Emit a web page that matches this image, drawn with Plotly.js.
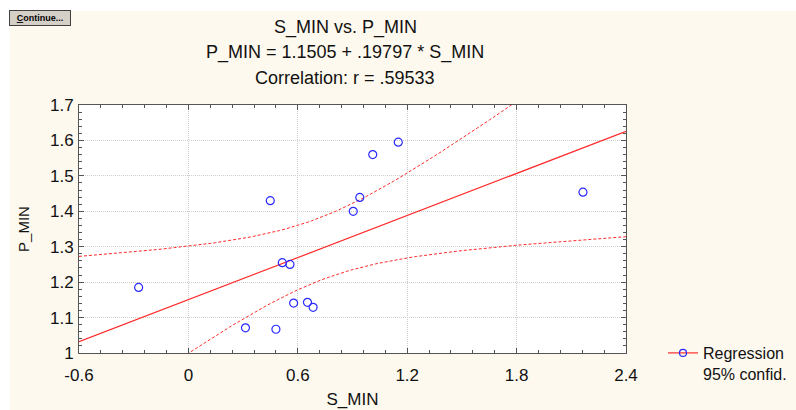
<!DOCTYPE html>
<html>
<head>
<meta charset="utf-8">
<script src="https://cdn.plot.ly/plotly-3.0.1.min.js"></script>
<style>html,body{margin:0;padding:0;background:#fff;}#chart{width:796px;height:410px;}</style>
</head>
<body>
<div id="chart"></div>
<script>
// ---- data ----
const S_MIN = [-0.273, 0.313, 0.449, 0.480, 0.515, 0.557, 0.577, 0.653, 0.684, 0.904, 0.940, 1.011, 1.151, 2.164];
const P_MIN = [1.185, 1.071, 1.430, 1.067, 1.255, 1.250, 1.141, 1.143, 1.129, 1.400, 1.439, 1.560, 1.595, 1.454];
// regression coefficients printed in the chart title
const INTERCEPT = 1.1505;
const SLOPE = 0.19797;
const T_CRIT = 2.179; // t(0.975, n-2 = 12)
const xTickVals = [-0.6, 0, 0.6, 1.2, 1.8, 2.4];
const xTickText = ['-0.6', '0', '0.6', '1.2', '1.8', '2.4'];
const yTickVals = [1, 1.1, 1.2, 1.3, 1.4, 1.5, 1.6, 1.7];
const yTickText = ['1', '1.1', '1.2', '1.3', '1.4', '1.5', '1.6', '1.7'];
const titleLines = ['S_MIN vs. P_MIN', 'P_MIN = 1.1505 + .19797 * S_MIN', 'Correlation: r = .59533'];

// ---- fitted line and 95% confidence band derived from the data ----
const n = S_MIN.length;
const mx = S_MIN.reduce((a, b) => a + b, 0) / n;
const sxx = S_MIN.reduce((a, x) => a + (x - mx) * (x - mx), 0);
const sse = S_MIN.reduce((a, x, i) => { const r = P_MIN[i] - (INTERCEPT + SLOPE * x); return a + r * r; }, 0);
const se = Math.sqrt(sse / (n - 2));
const xFit = [], yFit = [], yLo = [], yHi = [];
for (let k = 0; k <= 120; k++) {
  const x = -0.6 + k * 0.025;
  const yh = INTERCEPT + SLOPE * x;
  const hw = T_CRIT * se * Math.sqrt(1 / n + (x - mx) * (x - mx) / sxx);
  xFit.push(x); yFit.push(yh); yLo.push(yh - hw); yHi.push(yh + hw);
}

const RED = '#ff2a2a';
const BLUE = '#2a2aff';
const FONT = 'Liberation Sans, Arial, sans-serif';

const traces = [
  {x: xFit, y: yHi, mode: 'lines', line: {color: RED, width: 1, dash: '3px,2px'}, showlegend: false, hoverinfo: 'skip'},
  {x: xFit, y: yLo, mode: 'lines', line: {color: RED, width: 1, dash: '3px,2px'}, showlegend: false, hoverinfo: 'skip'},
  {x: xFit, y: yFit, mode: 'lines', line: {color: RED, width: 1.2}, showlegend: false, hoverinfo: 'skip'},
  {x: S_MIN, y: P_MIN, mode: 'markers', marker: {symbol: 'circle-open', size: 8, color: BLUE, line: {width: 1.2, color: BLUE}}, showlegend: false},
  {x: [null], y: [null], mode: 'lines+markers', name: 'Regression<br>95% confid.',
   line: {color: RED, width: 1.2}, marker: {symbol: 'circle-open', size: 7, color: BLUE, line: {width: 1.2, color: BLUE}}}
];

// pixel helpers for paper coordinates (plot area 79..626 x 105..353)
const PL = 79, PR = 626, PT = 105, PB = 353;
const px = v => (v - PL) / (PR - PL);
const py = v => (PB - v) / (PB - PT);

const axisCommon = {
  showline: true, linecolor: '#555', linewidth: 1, mirror: 'allticks',
  ticks: 'inside', ticklen: 5, tickcolor: '#555', tickwidth: 1,
  showgrid: true, gridcolor: '#cdcdcd', griddash: '1px,1px', gridwidth: 1,
  zeroline: false, tickfont: {family: FONT, size: 17, color: '#111'}
};

const layout = {
  width: 796, height: 410,
  margin: {l: PL, r: 796 - PR, t: PT, b: 410 - PB, pad: 0, autoexpand: false},
  paper_bgcolor: '#fef9ee', plot_bgcolor: '#ffffff',
  font: {family: FONT, color: '#111'},
  showlegend: true,
  legend: {x: px(663), y: py(336), xanchor: 'left', yanchor: 'top', bgcolor: 'rgba(0,0,0,0)',
           font: {family: FONT, size: 16, color: '#111'}, valign: 'top', itemwidth: 30},
  xaxis: Object.assign({}, axisCommon, {
    range: [-0.6, 2.4], tickmode: 'array', tickvals: xTickVals, ticktext: xTickText,
    ticklabelstandoff: 7, automargin: false,
    minor: {ticks: 'inside', ticklen: 3, tickcolor: '#555', dtick: 0.12, tick0: -0.6, showgrid: false},
    title: {text: 'S_MIN', font: {family: FONT, size: 17, color: '#111'}, standoff: 8}
  }),
  yaxis: Object.assign({}, axisCommon, {
    range: [1, 1.7], tickmode: 'array', tickvals: yTickVals, ticktext: yTickText,
    ticklabelstandoff: 1, automargin: false,
    minor: {ticks: 'inside', ticklen: 3, tickcolor: '#555', dtick: 0.02, tick0: 1, showgrid: false},
    title: {text: 'P_MIN', font: {family: FONT, size: 15, color: '#111'}, standoff: 16}
  }),
  shapes: [
    {type: 'rect', xref: 'paper', yref: 'paper', x0: -1, x1: 2, y0: py(11), y1: 3, fillcolor: '#ffffff', line: {width: 0}, layer: 'below'},
    {type: 'rect', xref: 'paper', yref: 'paper', x0: -1, x1: px(10), y0: -2, y1: 3, fillcolor: '#ffffff', line: {width: 0}, layer: 'below'}
  ],
  annotations: [
    {text: titleLines[0], xref: 'paper', yref: 'paper', x: px(345), y: py(28), xanchor: 'center', yanchor: 'middle', showarrow: false, font: {family: FONT, size: 18, color: '#111'}},
    {text: titleLines[1], xref: 'paper', yref: 'paper', x: px(345), y: py(53), xanchor: 'center', yanchor: 'middle', showarrow: false, font: {family: FONT, size: 18, color: '#111'}},
    {text: titleLines[2], xref: 'paper', yref: 'paper', x: px(345), y: py(78), xanchor: 'center', yanchor: 'middle', showarrow: false, font: {family: FONT, size: 18, color: '#111'}},
    {text: '<b><u>C</u>ontinue...</b>', xref: 'paper', yref: 'paper', x: px(40), y: py(17.5), xanchor: 'center', yanchor: 'middle',
     showarrow: false, width: 58, height: 12, bgcolor: '#d4d0c8', bordercolor: '#404040', borderwidth: 1, borderpad: 1,
     font: {family: FONT, size: 9, color: '#000'}}
  ]
};

Plotly.newPlot('chart', traces, layout, {displayModeBar: false, staticPlot: true});
</script>
</body>
</html>
